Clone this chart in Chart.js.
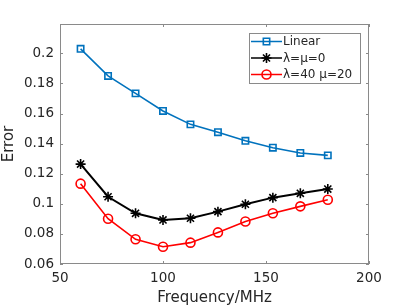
<!DOCTYPE html>
<html>
<head>
<meta charset="utf-8">
<script src="https://cdn.jsdelivr.net/npm/chart.js@4.4.1/dist/chart.umd.min.js"></script>
<style>
html,body{margin:0;padding:0;background:#fff;}
canvas{display:block;}
</style>
</head>
<body>
<canvas id="c" width="409" height="307"></canvas>
<script>
const frequencies = [60, 73.33, 86.67, 100, 113.33, 126.67, 140, 153.33, 166.67, 180];
const linearErr   = [0.203, 0.185, 0.1734, 0.1617, 0.1528, 0.1476, 0.1419, 0.1373, 0.1338, 0.1322];
const lambdaMu0   = [0.1264, 0.1047, 0.0937, 0.0893, 0.0904, 0.0948, 0.0997, 0.1041, 0.107, 0.1098];
const lambda40mu20= [0.1134, 0.0901, 0.0764, 0.0715, 0.0742, 0.081, 0.0882, 0.0937, 0.0983, 0.1027];
const seriesNames = ['Linear', 'λ=μ=0', 'λ=40 μ=20'];
const xTicks = [50, 100, 150, 200];
const yTicks = [0.06, 0.08, 0.1, 0.12, 0.14, 0.16, 0.18, 0.2];

const toXY = arr => arr.map((v, i) => ({x: frequencies[i], y: v}));
const FONT = '"DejaVu Sans", sans-serif';
const TXT = '#262626';
const AX = '#8a8a8a';

const frame = {
  id: 'frame',
  beforeDatasetsDraw(chart) {
    const {ctx, chartArea: a, scales} = chart;
    ctx.save();
    ctx.strokeStyle = AX;
    ctx.lineWidth = 1;
    ctx.strokeRect(a.left + 0.5, a.top + 0.5, a.right - a.left - 1, a.bottom - a.top - 1);
    ctx.beginPath();
    const tl = 3;
    yTicks.forEach(v => {
      const y = Math.round(scales.y.getPixelForValue(v)) + 0.5;
      ctx.moveTo(a.left, y); ctx.lineTo(a.left + tl, y);
      ctx.moveTo(a.right, y); ctx.lineTo(a.right - tl, y);
    });
    xTicks.forEach(v => {
      const x = Math.round(scales.x.getPixelForValue(v)) + 0.5;
      ctx.moveTo(x, a.bottom); ctx.lineTo(x, a.bottom - tl);
      ctx.moveTo(x, a.top); ctx.lineTo(x, a.top + tl);
    });
    ctx.stroke();
    ctx.restore();
  },
  afterDatasetsDraw(chart) {
    const {ctx} = chart;
    const box = {x: 249.5, y: 33.5, w: 111, h: 50};
    ctx.save();
    ctx.fillStyle = '#fff';
    ctx.fillRect(box.x, box.y, box.w, box.h);
    ctx.strokeStyle = '#8a8a8a';
    ctx.lineWidth = 1;
    ctx.strokeRect(box.x, box.y, box.w, box.h);
    const rows = [41.5, 58, 74.5];
    chart.data.datasets.forEach((ds, i) => {
      const y = rows[i];
      ctx.strokeStyle = ds.borderColor;
      ctx.lineWidth = 1.5;
      ctx.beginPath();
      ctx.moveTo(251, y); ctx.lineTo(282, y);
      ctx.stroke();
      ctx.fillStyle = 'rgba(0,0,0,0)';
      ctx.strokeStyle = ds.borderColor;
      ctx.lineWidth = ds.pointBorderWidth;
      Chart.helpers.drawPoint(ctx, {
        pointStyle: ds.pointStyle, radius: ds.pointRadius, borderWidth: ds.pointBorderWidth, rotation: 0
      }, 266.5, y);
      ctx.fillStyle = TXT;
      ctx.font = '12px ' + FONT;
      ctx.textBaseline = 'middle';
      ctx.textAlign = 'left';
      ctx.fillText(ds.label, 283, y + 0.5);
    });
    ctx.restore();
  }
};

new Chart(document.getElementById('c'), {
  type: 'line',
  data: {
    datasets: [
      {label: seriesNames[0], data: toXY(linearErr), borderColor: '#0072BD', backgroundColor: 'rgba(0,0,0,0)',
       pointStyle: 'rect', pointRadius: 4.5, pointBorderWidth: 1.6, borderWidth: 1.6, pointBorderColor: '#0072BD', pointBackgroundColor: 'rgba(0,0,0,0)'},
      {label: seriesNames[1], data: toXY(lambdaMu0), borderColor: '#000000', backgroundColor: 'rgba(0,0,0,0)',
       pointStyle: 'star', pointRadius: 5, pointBorderWidth: 1.6, borderWidth: 2, pointBorderColor: '#000', pointBackgroundColor: 'rgba(0,0,0,0)'},
      {label: seriesNames[2], data: toXY(lambda40mu20), borderColor: '#FF0000', backgroundColor: 'rgba(0,0,0,0)',
       pointStyle: 'circle', pointRadius: 4.5, pointBorderWidth: 1.6, borderWidth: 1.6, pointBorderColor: '#FF0000', pointBackgroundColor: 'rgba(0,0,0,0)'}
    ]
  },
  options: {
    responsive: false,
    animation: false,
    devicePixelRatio: 1,
    layout: {padding: {left: 0, right: 40, top: 24, bottom: 0}},
    plugins: {legend: {display: false}, tooltip: {enabled: false}},
    elements: {line: {tension: 0}},
    scales: {
      x: {
        type: 'linear', min: 50, max: 200,
        grid: {display: false, drawTicks: false},
        border: {display: false},
        afterBuildTicks: s => { s.ticks = xTicks.map(v => ({value: v})); },
        afterFit: s => { s.height = 43; },
        ticks: {color: TXT, font: {family: FONT, size: 13.5}, padding: 6, maxRotation: 0,
                callback: v => String(v)},
        title: {display: true, text: 'Frequency/MHz', color: TXT, font: {family: FONT, size: 15}, padding: {top: 0, bottom: 0}}
      },
      y: {
        type: 'linear', min: 0.06, max: 0.2195,
        grid: {display: false, drawTicks: false},
        border: {display: false},
        afterBuildTicks: s => { s.ticks = yTicks.map(v => ({value: v})); },
        afterFit: s => { s.width = 60; },
        ticks: {color: TXT, font: {family: FONT, size: 13.5}, padding: 6,
                callback: v => String(parseFloat(v.toFixed(2)))},
        title: {display: true, text: 'Error', color: TXT, font: {family: FONT, size: 15}, padding: {top: 0, bottom: 0}}
      }
    }
  },
  plugins: [frame]
});
</script>
</body>
</html>
